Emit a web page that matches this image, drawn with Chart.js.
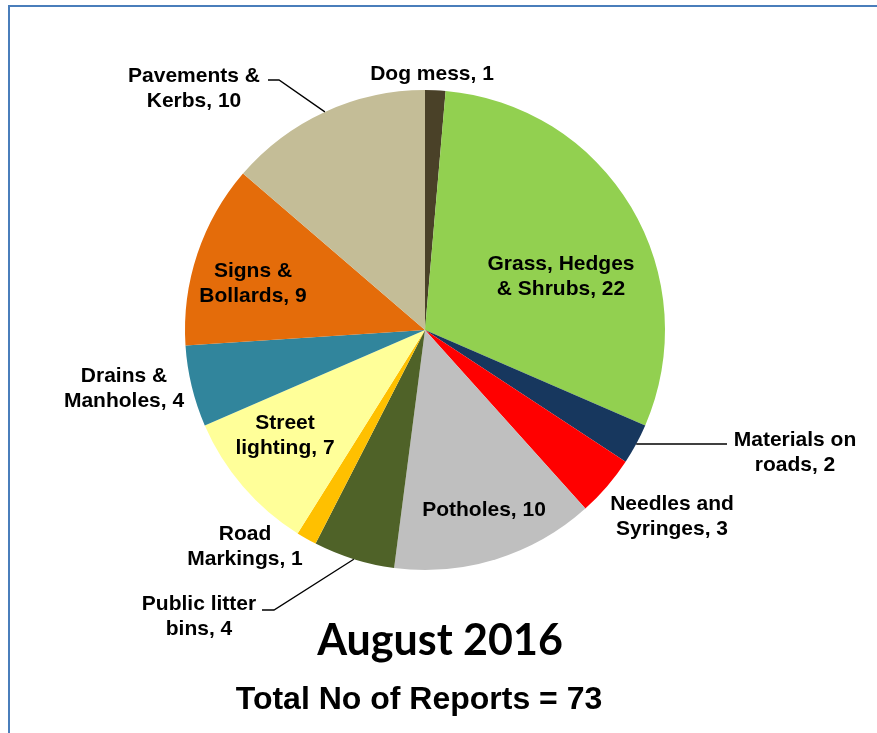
<!DOCTYPE html>
<html>
<head>
<meta charset="utf-8">
<script src="https://cdn.jsdelivr.net/npm/chart.js@4.4.1/dist/chart.umd.min.js"></script>
<style>
  html, body { margin: 0; padding: 0; background: #ffffff; }
  #wrap { position: relative; width: 877px; height: 733px; }
  canvas { display: block; }
</style>
</head>
<body>
<div id="wrap"><canvas id="c" width="877" height="733"></canvas></div>
<script>
// ---- data ----
const categories = ["Dog mess", "Grass, Hedges & Shrubs", "Materials on roads", "Needles and Syringes",
  "Potholes", "Public litter bins", "Road Markings", "Street lighting", "Drains & Manholes",
  "Signs & Bollards", "Pavements & Kerbs"];
const reportCounts = [1, 22, 2, 3, 10, 4, 1, 7, 4, 9, 10];
const sliceColors = ["#4a4128", "#92d050", "#17375e", "#ff0000", "#bfbfbf", "#4f6228",
  "#ffc000", "#ffff99", "#31859c", "#e46c0a", "#c4bd97"];
// label text lines (as in the picture)
const labelLines = [
  ["Dog mess, 1"],
  ["Grass, Hedges", "& Shrubs, 22"],
  ["Materials on", "roads, 2"],
  ["Needles and", "Syringes, 3"],
  ["Potholes, 10"],
  ["Public litter", "bins, 4"],
  ["Road", "Markings, 1"],
  ["Street", "lighting, 7"],
  ["Drains &", "Manholes, 4"],
  ["Signs &", "Bollards, 9"],
  ["Pavements &", "Kerbs, 10"]
];
const titleText = "August 2016";
const subtitleText = "Total No of Reports = 73";

// ---- layout (positions / styles) ----
const labelPos = [            // centre x, first baseline y
  [432, 80], [561, 270], [795, 446], [672, 510], [484, 516], [199, 610],
  [245, 540], [285, 429], [124, 382], [253, 277], [194, 82]
];
const lineGap = 24.5;
// leader lines: label-side points (slice end comes from the arc element)
const leaders = {
  2: [[727, 444]],
  5: [[262, 610], [274, 610]],
  10: [[268, 80], [279, 80]]
};

const overlayPlugin = {
  id: 'overlay',
  beforeDraw(chart) {
    const ctx = chart.ctx;
    ctx.save();
    ctx.fillStyle = '#4a7ebb';
    ctx.fillRect(8, 5, 877 - 8, 2);
    ctx.fillRect(8, 5, 2, 733 - 5);
    ctx.restore();
  },
  afterDraw(chart) {
    const ctx = chart.ctx;
    const meta = chart.getDatasetMeta(0);
    ctx.save();
    // leader lines
    ctx.strokeStyle = '#000000';
    ctx.lineWidth = 1.3;
    Object.keys(leaders).forEach(k => {
      const i = +k;
      const arc = meta.data[i];
      const mid = (arc.startAngle + arc.endAngle) / 2;
      const ex = arc.x + Math.cos(mid) * arc.outerRadius;
      const ey = arc.y + Math.sin(mid) * arc.outerRadius;
      const pts = leaders[k];
      ctx.beginPath();
      ctx.moveTo(pts[0][0], pts[0][1]);
      for (let j = 1; j < pts.length; j++) ctx.lineTo(pts[j][0], pts[j][1]);
      ctx.lineTo(ex, ey);
      ctx.stroke();
    });
    // labels
    ctx.fillStyle = '#000000';
    ctx.textAlign = 'center';
    ctx.textBaseline = 'alphabetic';
    ctx.font = 'bold 21px "Liberation Sans", Arial, sans-serif';
    labelLines.forEach((lines, i) => {
      const [x, y] = labelPos[i];
      lines.forEach((t, j) => ctx.fillText(t, x, y + j * lineGap));
    });
    // titles
    ctx.font = 'bold 43px Lato, "Open Sans", sans-serif';
    ctx.fillText(titleText, 440, 655);
    ctx.font = 'bold 32px "Liberation Sans", Arial, sans-serif';
    ctx.fillText(subtitleText, 419, 709);
    ctx.restore();
  }
};

new Chart(document.getElementById('c'), {
  type: 'pie',
  data: {
    labels: categories,
    datasets: [{
      data: reportCounts,
      backgroundColor: sliceColors,
      borderWidth: 0
    }]
  },
  options: {
    responsive: false,
    animation: false,
    layout: { padding: { left: 185, right: 212, top: 90, bottom: 163 } },
    plugins: {
      legend: { display: false },
      tooltip: { enabled: false },
      title: { display: false }
    }
  },
  plugins: [overlayPlugin]
});
</script>
</body>
</html>
